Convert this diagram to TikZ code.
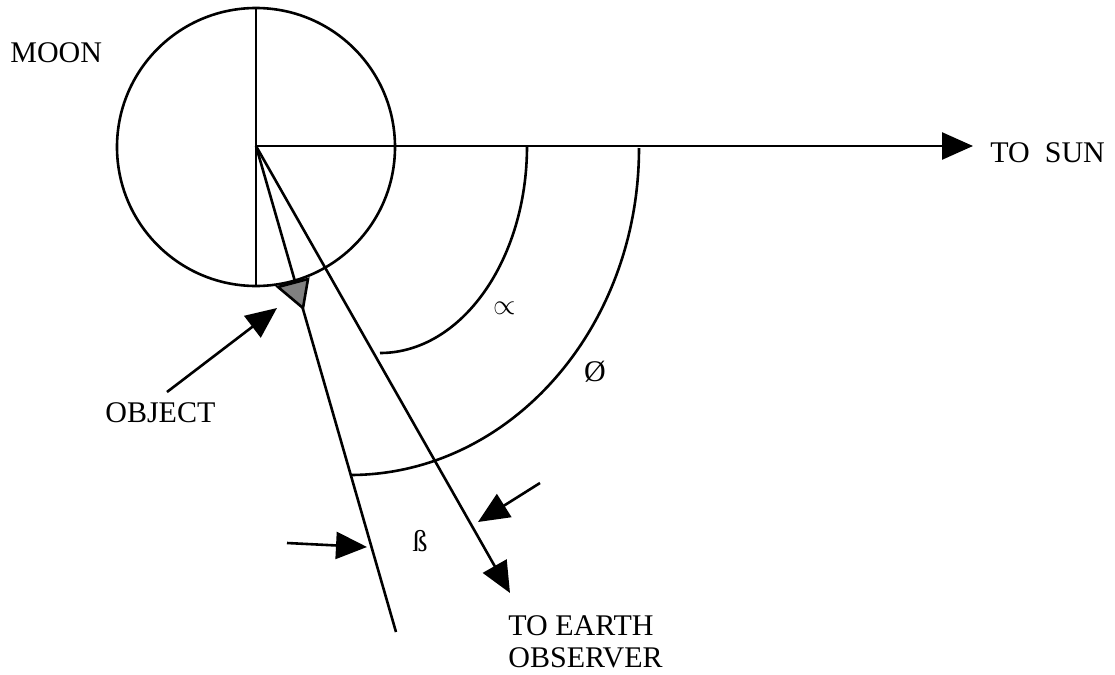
\documentclass[tikz,border=0pt]{standalone}
\usepackage{fontspec}
\setmainfont{Liberation Serif}
\usetikzlibrary{arrows.meta}

\begin{document}
\begin{tikzpicture}[
  x=0.5pt, y=-0.5pt,
  line/.style={line width=1.3pt},
  bigtip/.style={line width=1.3pt, -{Triangle[length=15.5pt, width=13.5pt]}},
  lbl/.style={font=\fontsize{15}{16}\selectfont, inner sep=0pt, anchor=base west},
  sym/.style={font=\fontsize{15}{16}\selectfont, inner sep=0pt},
]
  \useasboundingbox (0,0) rectangle (1115,675);

  % Moon with its axes
  \coordinate (moon_c)   at (256,146);
  \coordinate (moon_top) at (256,7);
  \coordinate (moon_bot) at (256,286);
  \draw[line] (256,147) circle[radius=139];
  \draw[line] (moon_top) -- (moon_bot);

  % To sun
  \coordinate (sun_tip) at (973,146);
  \draw[bigtip] (moon_c) -- (sun_tip);

  % Object line and line to earth
  \coordinate (obj_end)   at (396,632);
  \coordinate (earth_tip) at (510,593);
  \draw[line] (moon_c) -- (obj_end);
  \draw[bigtip] (moon_c) -- (earth_tip);

  % Object on the limb
  \draw[line, fill=gray] (278,287) -- (308,279) -- (303,308) -- cycle;

  % Angle arcs
  \coordinate (alpha_start) at (527,146);
  \coordinate (phi_start)   at (639,148);
  \draw[line] (alpha_start) arc[start angle=0, end angle=90, x radius=147, y radius=207];
  \draw[line] (phi_start) arc[start angle=0, end angle=90, x radius=289, y radius=327];

  % Pointer arrows
  \coordinate (obj_tail)    at (167,392);
  \coordinate (obj_tip)     at (277,308);
  \coordinate (beta_l_tail) at (287,543);
  \coordinate (beta_l_tip)  at (367,547);
  \coordinate (beta_r_tail) at (540,483);
  \coordinate (beta_r_tip)  at (478,522);
  \draw[bigtip] (obj_tail) -- (obj_tip);
  \draw[bigtip] (beta_l_tail) -- (beta_l_tip);
  \draw[bigtip] (beta_r_tail) -- (beta_r_tip);

  % Labels
  \node[lbl] (moon_lbl) at (10,62)   {MOON};
  \node[lbl] (sun_lbl)  at (990,162) {TO\ \ SUN};
  \node[lbl] (obj_lbl)  at (105,422) {OBJECT};
  \node[lbl, anchor=north west, align=left] (earth_lbl) at (508,615) {TO EARTH\\OBSERVER};
  \node[sym, font=\fontsize{14.5}{16}\selectfont] (alpha_lbl) at (505,308) {$\propto$};
  \node[sym] (phi_lbl)  at (595,372) {Ø};
  \node[sym] (beta_lbl) at (420,541) {ß};
\end{tikzpicture}
\end{document}
